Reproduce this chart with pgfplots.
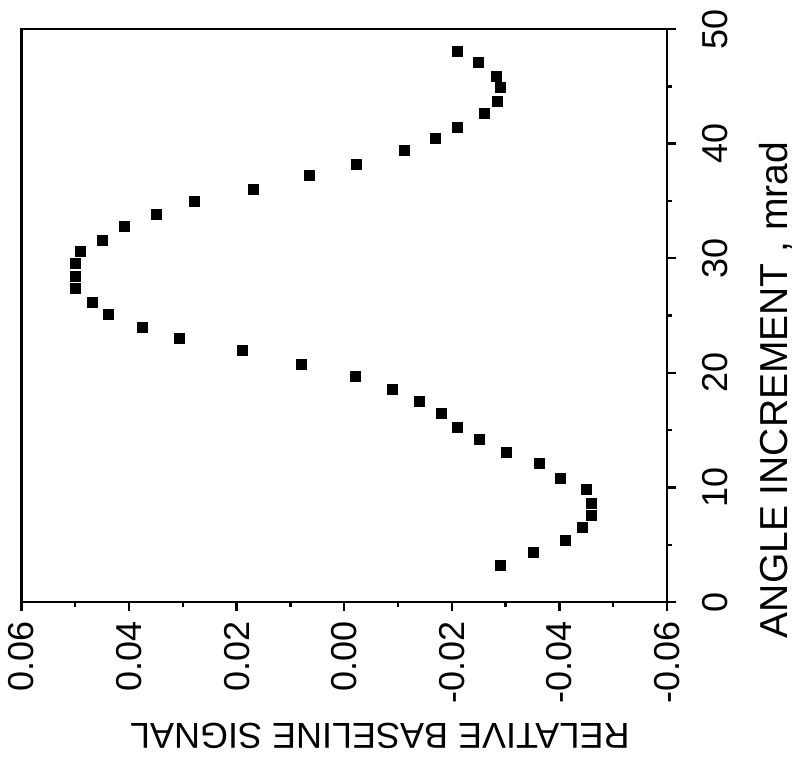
\documentclass[border=0pt]{standalone}
\usepackage{fontspec}
\setmainfont{Liberation Sans}
\usepackage{pgfplots}
\pgfplotsset{compat=1.18}
\begin{document}
\begin{tikzpicture}
\begin{axis}[
  name=ax,
  scale only axis,
  width=322.75pt, height=286.5pt,
  xmin=-0.06, xmax=0.06, ymin=0, ymax=50,
  x dir=reverse,
  scaled x ticks=false, scaled y ticks=false,
  axis line style={line width=1.4pt},
  xtick={-0.06,-0.04,-0.02,0,0.02,0.04,0.06},
  xticklabels={-0.06,-0.04,-0.02,0.00,0.02,0.04,0.06},
  ytick={0,10,20,30,40,50},
  yticklabels={0,10,20,30,40,50},
  minor x tick num=1, minor y tick num=1,
  xtick pos=left, ytick pos=right,
  tick align=outside,
  major tick length=4.5pt, minor tick length=2.5pt,
  every tick/.style={line width=1.2pt, black},
  xticklabel style={font=\fontsize{18}{20}\selectfont, rotate=90, anchor=east, inner sep=0pt},
  xticklabel shift=5pt,
  yticklabel style={font=\fontsize{18}{20}\selectfont, rotate=90, anchor=north, inner sep=0pt},
  yticklabel shift=13pt,
  xlabel={RELATIVE BASELINE SIGNAL},
  xlabel style={font=\fontsize{18}{20}\selectfont, rotate=180, at={(axis description cs:0.555,-0.2339)}, anchor=center},
  ylabel={ANGLE INCREMENT , mrad},
  ylabel style={font=\fontsize{19.5}{21}\selectfont, at={(axis description cs:1.168,0.37)}, anchor=center},
  clip=false,
]
\addplot[only marks, mark=square*, mark size=2.5pt, black] coordinates {
(-0.0290,3.23) (-0.0351,4.36) (-0.0412,5.41) (-0.0442,6.54) (-0.0459,7.59)
(-0.0459,8.64) (-0.0451,9.86) (-0.0401,10.82) (-0.0362,12.13) (-0.0301,13.09)
(-0.0252,14.22) (-0.0210,15.27) (-0.0180,16.49) (-0.0139,17.54) (-0.0089,18.59)
(-0.0020,19.72) (0.0080,20.77) (0.0190,21.99) (0.0307,23.04) (0.0376,24.00)
(0.0439,25.13) (0.0469,26.18) (0.0499,27.40) (0.0499,28.45) (0.0499,29.58)
(0.0491,30.63) (0.0450,31.59) (0.0409,32.81) (0.0350,33.86) (0.0279,34.99)
(0.0168,36.04) (0.0064,37.26) (-0.0022,38.22) (-0.0111,39.44) (-0.0169,40.49)
(-0.0210,41.45) (-0.0260,42.67) (-0.0284,43.72) (-0.0290,44.94) (-0.0282,45.90)
(-0.0249,47.12) (-0.0210,48.08)
};
\end{axis}
\pgfresetboundingbox
\path[use as bounding box] ([xshift=-10.75pt,yshift=-80pt]ax.south west) rectangle ([xshift=71pt,yshift=14.5pt]ax.north east);
\end{tikzpicture}
\end{document}
